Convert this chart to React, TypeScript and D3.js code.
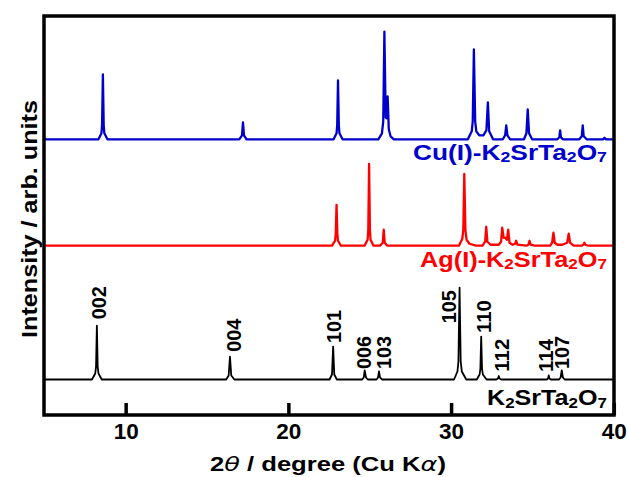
import React from 'react';
import * as d3 from 'd3';

// ---------- data (2θ in degrees, intensity in arbitrary units above each baseline) ----------
const xDomain: [number, number] = [5, 40];
const xTickValues = [10, 20, 30, 40];
const xTickLabels = ['10', '20', '30', '40'];

const cuPattern: [number, number][] = [
  [5, 0],
  [8.3, 0], [8.48, 6], [8.52, 14], [8.57, 65], [8.62, 14], [8.66, 6], [8.85, 0],
  [16.95, 0], [17.12, 4], [17.18, 17], [17.24, 4], [17.4, 0],
  [22.75, 0], [22.93, 6], [22.97, 14], [23.02, 59], [23.07, 14], [23.11, 6], [23.3, 0],
  [25.5, 0], [25.72, 6], [25.8, 18], [25.87, 108], [25.95, 22], [26.0, 21], [26.07, 43], [26.14, 10], [26.25, 3], [26.45, 0],
  [31.0, 0], [31.24, 8], [31.3, 18], [31.37, 90], [31.45, 18], [31.52, 8], [31.7, 4], [31.95, 4], [32.14, 9], [32.23, 37], [32.31, 8], [32.55, 0],
  [33.15, 0], [33.29, 4], [33.36, 14], [33.43, 4], [33.6, 0],
  [34.45, 0], [34.6, 6], [34.68, 30], [34.76, 6], [34.95, 0],
  [36.5, 0], [36.62, 2], [36.67, 9], [36.72, 2], [36.85, 0],
  [37.85, 0], [38.0, 3], [38.06, 14], [38.12, 3], [38.3, 0],
  [39.3, 0], [39.4, 1.5], [39.5, 0],
  [40, 0],
];

const agPattern: [number, number][] = [
  [5, 0],
  [22.65, 0], [22.84, 5], [22.88, 12], [22.93, 41], [22.98, 12], [23.02, 5], [23.2, 0],
  [24.65, 0], [24.84, 6], [24.88, 16], [24.93, 82], [24.98, 16], [25.02, 6], [25.2, 0],
  [25.6, 0], [25.77, 3], [25.83, 16], [25.89, 3], [26.05, 0],
  [30.45, 0], [30.66, 7], [30.72, 16], [30.78, 72], [30.85, 16], [30.92, 6], [31.1, 2], [31.5, 0],
  [31.9, 0], [32.06, 4], [32.13, 19], [32.2, 4], [32.4, 1],
  [32.9, 1], [33.04, 4], [33.11, 18], [33.2, 8], [33.3, 8], [33.4, 6], [33.48, 16], [33.56, 3], [33.75, 1],
  [33.9, 2], [33.97, 5], [34.05, 1], [34.6, 0], [34.72, 1], [34.79, 5], [34.86, 1], [35.1, 0],
  [36.05, 0], [36.18, 3], [36.26, 13], [36.34, 3], [36.5, 1], [36.8, 1], [37.1, 3], [37.2, 12], [37.28, 3], [37.5, 0],
  [38.0, 0], [38.1, 1], [38.16, 3], [38.22, 1], [38.4, 0],
  [40, 0],
];

const k2Pattern: [number, number][] = [
  [5, 0],
  [7.9, 0], [8.1, 6], [8.15, 13], [8.2, 54], [8.25, 13], [8.3, 6], [8.5, 0],
  [16.15, 0], [16.3, 4], [16.38, 23], [16.46, 4], [16.65, 0],
  [22.5, 0], [22.65, 5], [22.72, 33], [22.79, 5], [22.95, 0],
  [24.5, 0], [24.6, 2], [24.66, 9], [24.74, 2], [24.85, 0],
  [25.38, 0], [25.48, 2], [25.54, 8], [25.6, 2], [25.72, 0],
  [30.15, 0], [30.36, 8], [30.42, 18], [30.49, 92], [30.56, 18], [30.63, 8], [30.9, 0],
  [31.55, 0], [31.72, 5], [31.77, 11], [31.82, 43], [31.87, 11], [31.92, 5], [32.15, 0],
  [32.75, 0], [32.85, 1], [32.9, 3.5], [32.95, 1], [33.05, 0],
  [35.85, 0], [35.93, 1], [35.97, 4], [36.01, 1], [36.1, 0],
  [36.6, 0], [36.7, 2], [36.77, 9], [36.84, 2], [36.95, 0],
  [40, 0],
];

const seriesNames = ['Cu(I)-K2SrTa2O7', 'Ag(I)-K2SrTa2O7', 'K2SrTa2O7'];
const seriesColors = ['#0000cc', '#ff0000', '#000000'];
const seriesOffsets = [276.4, 169.7, 35.6];
const seriesPatterns = [cuPattern, agPattern, k2Pattern];

const hklLabels = ['002', '004', '101', '006', '103', '105', '110', '112', '114', '107'];
const hklTheta = [8.31, 16.58, 22.74, 24.58, 25.81, 29.82, 31.97, 33.1, 35.76, 36.78];
const hklLevel = [60.5, 27.8, 36.5, 10.5, 10.5, 56.5, 46.5, 7.8, 7.5, 10.5];

// ---------- layout ----------
const W = 628;
const H = 477;
const FONT = '"Liberation Sans", Arial, Helvetica, sans-serif';
const frame = { left: 44, right: 614, top: 16, bottom: 415 };

const xScale = d3.scaleLinear().domain(xDomain).range([44.8, 614.3]);
const yScale = d3.scaleLinear().domain([0, 400]).range([frame.bottom, frame.top]);

const nameLayout = [
  { right: 607, baseline: 159.5, len: 194 },
  { right: 607, baseline: 266.5, len: 187 },
  { right: 607, baseline: 405, len: 120 },
];
const lineWidths = [2.3, 2.3, 1.8];

function Formula({ text, x, y, fill, len }: { text: string; x: number; y: number; fill: string; len: number }) {
  const runs = text.match(/\d+|\D+/g) || [];
  let prevSub = false;
  return (
    <text
      x={x - len}
      y={y}
      fill={fill}
      fontFamily={FONT}
      fontWeight="bold"
      fontSize={21.5}
      textLength={len}
      lengthAdjust="spacingAndGlyphs"
    >
      {runs.map((r, i) => {
        const isSub = /^\d+$/.test(r);
        const dy = isSub ? (prevSub ? 0 : 2.5) : prevSub ? -2.5 : 0;
        prevSub = isSub;
        return (
          <tspan key={i} dy={dy} fontSize={isSub ? 14.5 : 21.5}>
            {r}
          </tspan>
        );
      })}
    </text>
  );
}

export default function App() {
  const line = d3.line<[number, number]>().x((d) => xScale(d[0]));

  return (
    <svg width={W} height={H} style={{ display: 'block', position: 'absolute', left: 0, top: 0 }}>
      <rect x={0} y={0} width={W} height={H} fill="#ffffff" />
      {seriesPatterns.map((pat, i) => {
        const gen = line.y((d) => yScale(d[1] + seriesOffsets[i]));
        return (
          <path
            key={i}
            d={gen(pat) || ''}
            fill="none"
            stroke={seriesColors[i]}
            strokeWidth={lineWidths[i]}
            strokeLinejoin="round"
          />
        );
      })}

      {/* hkl labels */}
      {hklLabels.map((lab, i) => {
        const x = xScale(hklTheta[i]);
        const y = yScale(hklLevel[i] + seriesOffsets[2]);
        return (
          <text
            key={lab}
            transform={`translate(${x},${y}) rotate(-90)`}
            dy="0.36em"
            fontFamily={FONT}
            fontWeight="bold"
            fontSize={20.5}
            fill="#000"
            textLength={33}
            lengthAdjust="spacingAndGlyphs"
          >
            {lab}
          </text>
        );
      })}

      {/* series names */}
      {seriesNames.map((n, i) => (
        <Formula
          key={n}
          text={n}
          x={nameLayout[i].right}
          y={nameLayout[i].baseline}
          fill={seriesColors[i]}
          len={nameLayout[i].len}
        />
      ))}

      {/* frame */}
      <rect
        x={frame.left}
        y={frame.top}
        width={frame.right - frame.left}
        height={frame.bottom - frame.top}
        fill="none"
        stroke="#000"
        strokeWidth={3.5}
      />

      {/* ticks */}
      {xTickValues.map((v, i) => (
        <g key={v}>
          <line x1={xScale(v)} x2={xScale(v)} y1={frame.bottom} y2={frame.bottom - 12} stroke="#000" strokeWidth={3.5} />
          <text
            x={xScale(v)}
            y={439}
            textAnchor="middle"
            fontFamily={FONT}
            fontWeight="bold"
            fontSize={22.5}
            fill="#000"
          >
            {xTickLabels[i]}
          </text>
        </g>
      ))}

      {/* axis titles */}
      <text
        x={210}
        y={471}
        fontFamily={FONT}
        fontWeight="bold"
        fontSize={20}
        fill="#000"
        textLength={236}
        lengthAdjust="spacingAndGlyphs"
      >
        2<tspan fontStyle="italic" fontFamily='"DejaVu Sans", sans-serif' fontWeight="normal">θ</tspan> / degree (Cu K
        <tspan fontStyle="italic" fontFamily='"DejaVu Sans", sans-serif' fontWeight="normal">α</tspan>)
      </text>
      <text
        transform="translate(36.5,338) rotate(-90)"
        fontFamily={FONT}
        fontWeight="bold"
        fontSize={21.5}
        fill="#000"
        textLength={238}
        lengthAdjust="spacingAndGlyphs"
      >
        Intensity / arb. units
      </text>
    </svg>
  );
}
